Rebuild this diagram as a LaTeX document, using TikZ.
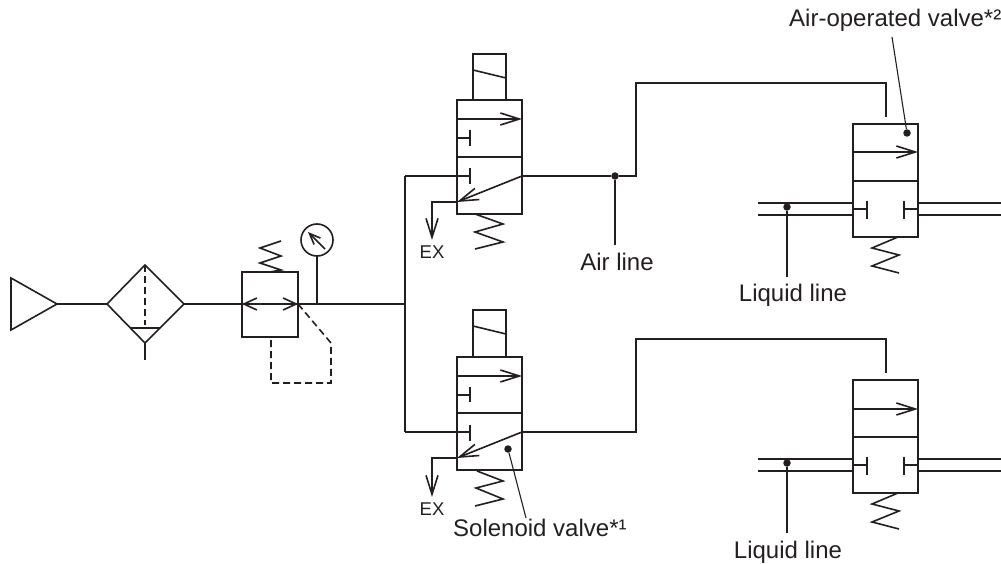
\documentclass[tikz,border=0pt]{standalone}
\usepackage{fontspec}
\setmainfont{Liberation Sans}
\usetikzlibrary{arrows.meta}
\definecolor{LineBlack}{HTML}{231F20}

\begin{document}
\begin{tikzpicture}[x=1pt,y=-1pt]
  \tikzset{BoxStyle/.style = {
    shape         = rectangle,
    draw          = LineBlack,
    line width    = 1.6pt,
    inner sep     = 0pt,
    outer sep     = 0pt
    }
  }
  \tikzset{DiamondStyle/.style = {
    draw          = LineBlack,
    line width    = 1.6pt,
    line join     = miter
    }
  }
  \tikzset{PipeStyle/.style = {
    draw          = LineBlack,
    line width    = 1.6pt
    }
  }
  \tikzset{PilotStyle/.style = {
    PipeStyle,
    dash pattern  = on 7pt off 4pt
    }
  }
  \tikzset{LeaderStyle/.style = {
    draw          = LineBlack,
    line width    = 1.1pt
    }
  }
  \tikzset{FlowStyle/.style = {
    PipeStyle,
    -{Straight Barb[length=19pt,width=12pt,line width=1.6pt]}
    }
  }
  \tikzset{DotStyle/.style = {
    shape         = circle,
    fill          = LineBlack,
    inner sep     = 0pt,
    minimum size  = 7.5pt
    }
  }
  \tikzset{LabelStyle/.style = {
    text          = LineBlack,
    font          = \fontsize{24}{26}\selectfont,
    inner sep     = 0pt
    }
  }
  \tikzset{ExStyle/.style = {
    text          = LineBlack,
    font          = \fontsize{18.5}{20}\selectfont,
    inner sep     = 0pt
    }
  }

  \useasboundingbox (0,0) rectangle (1001,564);

  % air supply, filter, regulator
  \coordinate (S1) at (11,278);
  \coordinate (S2) at (11,330);
  \coordinate (S3) at (57,304);
  \coordinate (F1) at (107,304);
  \coordinate (F2) at (145,265);
  \coordinate (F3) at (184,304);
  \coordinate (F4) at (145,343);
  \coordinate (F5) at (145,360);
  \coordinate (F6) at (145,325);
  \node[BoxStyle,minimum width=56pt,minimum height=65pt](R1) at (270,304.5) {};
  \coordinate (R2) at (242,304);
  \coordinate (R3) at (298,304);
  \node[BoxStyle,circle,minimum size=32pt](G1) at (317,240) {};
  \coordinate (G2) at (317,304);
  \coordinate (J1) at (405,304);
  \coordinate (J2) at (405,176);
  \coordinate (J3) at (405,432);
  \coordinate (P1) at (331,343);
  \coordinate (P2) at (331,383);
  \coordinate (P3) at (271,383);
  \coordinate (P4) at (271,337);

  \draw[DiamondStyle](S1) -- (S2) -- (S3) -- cycle;
  \draw[DiamondStyle](F1) -- (F2) -- (F3) -- (F4) -- cycle;
  \draw[PipeStyle](130,328) -- (160,328);
  \draw[PilotStyle](F2) -- (F6);
  \draw[PipeStyle](F4) -- (F5);
  \draw[PipeStyle](S3) -- (F1);
  \draw[PipeStyle](F3) -- (R2);
  \draw[PipeStyle](R2) -- (R3) -- (J1);
  \draw[PipeStyle,-{Straight Barb[length=13pt,width=12pt,line width=1.6pt]}](270,304) -- (R2);
  \draw[PipeStyle,-{Straight Barb[length=13pt,width=12pt,line width=1.6pt]}](270,304) -- (R3);
  \draw[PipeStyle](G1) -- (G2);
  \draw[PipeStyle,-{Straight Barb[length=11pt,width=9pt,line width=1.6pt]}](325,249) -- (308,232);
  \draw[PilotStyle](R3) -- (P1) -- (P2) -- (P3) -- (P4);
  \draw[PipeStyle](281,241) -- (260,248) -- (281,256) -- (260,263) -- (281,270) -- (270,272);
  \draw[PipeStyle](J2) -- (J3);

  % upper solenoid valve
  \node[BoxStyle,minimum width=65pt,minimum height=114pt](A1) at (489.5,157) {};
  \node[BoxStyle,minimum width=33pt,minimum height=46pt](A2) at (489.5,77) {};
  \coordinate (A3) at (470,176);
  \coordinate (A4) at (522,176);
  \coordinate (A5) at (457,202);
  \coordinate (A6) at (432,202);
  \coordinate (A7) at (432,240);
  \node[DotStyle](A8) at (615,176) {};
  \coordinate (A9) at (636,176);
  \coordinate (A10) at (636,83);
  \coordinate (A11) at (886,83);
  \coordinate (A12) at (886,117);
  \coordinate (A13) at (615,245);
  \node[ExStyle](A14) at (432,252) {EX};
  \node[LabelStyle](A15) at (617,262) {Air line};

  \draw[PipeStyle](473,70) -- (506,78);
  \draw[PipeStyle](457,157) -- (522,157);
  \draw[FlowStyle](457,119) -- (522,119);
  \draw[PipeStyle](457,138) -- (470,138);
  \draw[PipeStyle](470,130) -- (470,146);
  \draw[PipeStyle](470,168) -- (470,184);
  \draw[PipeStyle](J2) -- (A3);
  \draw[FlowStyle](A4) -- (A5);
  \draw[FlowStyle](A5) -- (A6) -- (A7);
  \draw[PipeStyle](A4) -- (A8) -- (A9) -- (A10) -- (A11) -- (A12);
  \draw[LeaderStyle](A8) -- (A13);
  \draw[PipeStyle](475,214) -- (503,224) -- (475,232) -- (503,242) -- (475,249);

  % lower solenoid valve
  \node[BoxStyle,minimum width=65pt,minimum height=113pt](B1) at (489.5,413.5) {};
  \node[BoxStyle,minimum width=33pt,minimum height=47pt](B2) at (489.5,333.5) {};
  \coordinate (B3) at (470,432);
  \coordinate (B4) at (522,432);
  \coordinate (B5) at (457,458);
  \coordinate (B6) at (432,458);
  \coordinate (B7) at (432,497);
  \coordinate (B9) at (636,432);
  \coordinate (B10) at (636,339);
  \coordinate (B11) at (886,339);
  \coordinate (B12) at (886,373);
  \node[DotStyle](B8) at (508,449) {};
  \coordinate (B13) at (526,518);
  \node[ExStyle](B14) at (432,509) {EX};
  \node[LabelStyle,anchor=west](B15) at (453,528) {Solenoid valve*¹};

  \draw[PipeStyle](473,326) -- (506,334);
  \draw[PipeStyle](457,413) -- (522,413);
  \draw[FlowStyle](457,376) -- (522,376);
  \draw[PipeStyle](457,395) -- (470,395);
  \draw[PipeStyle](470,387) -- (470,402);
  \draw[PipeStyle](470,425) -- (470,441);
  \draw[PipeStyle](J3) -- (B3);
  \draw[FlowStyle](B4) -- (B5);
  \draw[FlowStyle](B5) -- (B6) -- (B7);
  \draw[PipeStyle](B4) -- (B9) -- (B10) -- (B11) -- (B12);
  \draw[LeaderStyle](B8) -- (B13);
  \draw[PipeStyle](477,471) -- (503,481) -- (476,488) -- (503,499) -- (475,506);

  % upper air-operated valve
  \node[BoxStyle,minimum width=65pt,minimum height=113pt](C1) at (885.5,180.5) {};
  \coordinate (C2) at (758,203);
  \coordinate (C3) at (853,203);
  \coordinate (C4) at (758,215);
  \coordinate (C5) at (853,215);
  \coordinate (C6) at (918,203);
  \coordinate (C7) at (1001,203);
  \coordinate (C8) at (918,215);
  \coordinate (C9) at (1001,215);
  \node[DotStyle](C10) at (787,207) {};
  \coordinate (C11) at (787,277);
  \node[DotStyle](C12) at (907,133) {};
  \coordinate (C13) at (892,37);
  \node[LabelStyle](C14) at (793,295) {Liquid line};
  \node[LabelStyle,anchor=west](C15) at (789,20) {Air-operated valve*²};

  \draw[FlowStyle](853,152) -- (918,152);
  \draw[PipeStyle](853,181) -- (918,181);
  \draw[PipeStyle](C2) -- (C3);
  \draw[PipeStyle](C4) -- (C5);
  \draw[PipeStyle](C6) -- (C7);
  \draw[PipeStyle](C8) -- (C9);
  \draw[PipeStyle](853,209) -- (867,209);
  \draw[PipeStyle](867,201) -- (867,219);
  \draw[PipeStyle](918,209) -- (904,209);
  \draw[PipeStyle](904,201) -- (904,219);
  \draw[LeaderStyle](C10) -- (C11);
  \draw[LeaderStyle](C12) -- (C13);
  \draw[PipeStyle](898,237) -- (872,248) -- (899,255) -- (872,266) -- (899,273);

  % lower air-operated valve
  \node[BoxStyle,minimum width=65pt,minimum height=113pt](D1) at (885.5,436.5) {};
  \coordinate (D2) at (758,459);
  \coordinate (D3) at (853,459);
  \coordinate (D4) at (758,471);
  \coordinate (D5) at (853,471);
  \coordinate (D6) at (918,459);
  \coordinate (D7) at (1001,459);
  \coordinate (D8) at (918,471);
  \coordinate (D9) at (1001,471);
  \node[DotStyle](D10) at (787,463) {};
  \coordinate (D11) at (787,533);
  \node[LabelStyle](D14) at (788,552) {Liquid line};

  \draw[FlowStyle](853,409) -- (918,409);
  \draw[PipeStyle](853,437) -- (918,437);
  \draw[PipeStyle](D2) -- (D3);
  \draw[PipeStyle](D4) -- (D5);
  \draw[PipeStyle](D6) -- (D7);
  \draw[PipeStyle](D8) -- (D9);
  \draw[PipeStyle](853,465) -- (867,465);
  \draw[PipeStyle](867,457) -- (867,475);
  \draw[PipeStyle](918,465) -- (904,465);
  \draw[PipeStyle](904,457) -- (904,475);
  \draw[LeaderStyle](D10) -- (D11);
  \draw[PipeStyle](898,493) -- (872,504) -- (899,511) -- (872,522) -- (899,529);

\end{tikzpicture}
\end{document}
